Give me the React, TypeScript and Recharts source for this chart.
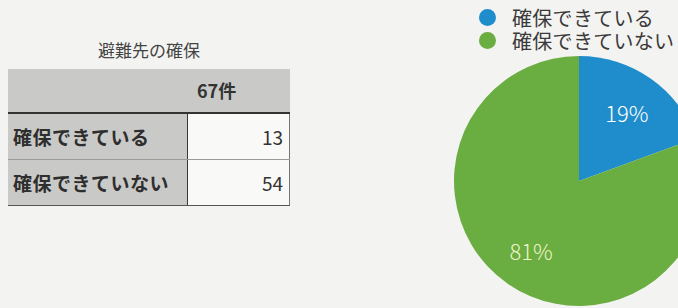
import React from "react";
import { PieChart, Pie, Cell } from "recharts";

const categories = ["確保できている", "確保できていない"];
const counts = [13, 54];
const totalLabel = "67件";
const title = "避難先の確保";
const colors = ["#1f8dcc", "#6aad40"];
const labelColors = ["#ffffff", "#eef3c8"];

const data = categories.map((name, i) => ({ name, value: counts[i] }));

const FONT = "'Noto Sans CJK JP', 'Noto Sans', sans-serif";
const RAD = Math.PI / 180;

const renderLabel = (props: any) => {
  const { cx, cy, midAngle, outerRadius, percent, index } = props;
  const r = outerRadius * 0.67;
  const x = cx + r * Math.cos(-midAngle * RAD);
  const y = cy + r * Math.sin(-midAngle * RAD);
  return (
    <text
      x={x}
      y={y}
      fill={labelColors[index]}
      textAnchor="middle"
      dominantBaseline="central"
      fontSize={22}
      fontWeight={300}
      fontFamily={FONT}
    >
      {`${Math.round(percent * 100)}%`}
    </text>
  );
};

const cellGray = "#c9c9c7";
const border = "1px solid #3a3a3a";

export default function App() {
  return (
    <div
      style={{
        position: "absolute",
        left: 0,
        top: 0,
        width: 678,
        height: 308,
        background: "#f3f3f1",
        overflow: "hidden",
        fontFamily: FONT,
      }}
    >
      <div style={{ position: "absolute", left: 0, top: 0 }}>
        <PieChart width={678} height={308} margin={{ top: 0, right: 0, bottom: 0, left: 0 }}>
          <Pie
            data={data}
            dataKey="value"
            nameKey="name"
            cx={579}
            cy={181}
            outerRadius={125}
            startAngle={90}
            endAngle={-270}
            stroke="none"
            label={renderLabel}
            labelLine={false}
            isAnimationActive={false}
          >
            {data.map((d, i) => (
              <Cell key={d.name} fill={colors[i]} />
            ))}
          </Pie>
        </PieChart>
      </div>

      <div style={{ position: "absolute", left: 479, top: 6 }}>
        {categories.map((c, i) => (
          <div key={c} style={{ display: "flex", alignItems: "center", height: 23 }}>
            <span
              style={{
                display: "inline-block",
                width: 17,
                height: 17,
                borderRadius: "50%",
                background: colors[i],
                marginRight: 16,
              }}
            />
            <span style={{ fontSize: 20, color: "#3a3a3a", lineHeight: "20px", letterSpacing: 0.3 }}>{c}</span>
          </div>
        ))}
      </div>

      <div
        style={{
          position: "absolute",
          left: 8,
          top: 37,
          width: 282,
          textAlign: "center",
          fontSize: 17,
          color: "#444",
        }}
      >
        {title}
      </div>

      <div style={{ position: "absolute", left: 8, top: 69, width: 282 }}>
        <div
          style={{
            display: "flex",
            height: 43,
            background: cellGray,
            borderBottom: "2px solid #333",
          }}
        >
          <div style={{ width: 180 }} />
          <div
            style={{
              flex: 1,
              fontWeight: 700,
              fontSize: 18,
              color: "#333",
              lineHeight: "43px",
              paddingLeft: 9,
            }}
          >
            {totalLabel}
          </div>
        </div>
        {categories.map((c, i) => (
          <div key={c} style={{ display: "flex", height: 45, borderBottom: i === 0 ? "1px solid #9a9a9a" : "1px solid #555" }}>
            <div
              style={{
                width: 180,
                background: cellGray,
                borderRight: border,
                fontWeight: 700,
                fontSize: 19,
                color: "#2e2e2e",
                lineHeight: "45px",
                paddingLeft: 5,
                boxSizing: "border-box",
                letterSpacing: 0.5,
              }}
            >
              {c}
            </div>
            <div
              style={{
                flex: 1,
                background: "#f9f9f8",
                borderRight: "1px solid #777",
                textAlign: "right",
                fontSize: 19,
                color: "#333",
                lineHeight: "45px",
                paddingRight: 6,
              }}
            >
              {counts[i]}
            </div>
          </div>
        ))}
      </div>
    </div>
  );
}
